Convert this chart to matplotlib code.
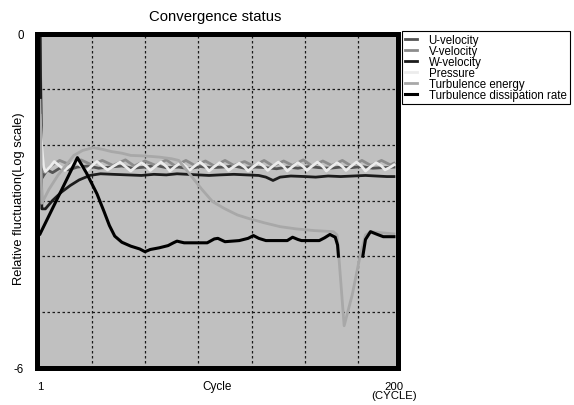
import numpy as np
import matplotlib
matplotlib.use("Agg")
import matplotlib.pyplot as plt

plt.rcParams['font.family'] = ['Liberation Sans', 'DejaVu Sans']

# ---------------- data (cycle, log10 relative fluctuation) ----------------
u_cycle = [1, 2, 3, 5, 8, 12, 17, 22, 28, 34, 40, 47, 53, 60, 66, 72, 79, 85, 91,
           97, 104, 110, 116, 122, 128, 134, 140, 146, 152, 158, 164, 170, 176,
           182, 188, 194, 200]
u_vel = [0.0, -2.6, -2.55, -2.45, -2.5, -2.42, -2.45, -2.4, -2.38, -2.42, -2.4,
         -2.38, -2.42, -2.4, -2.37, -2.41, -2.4, -2.43, -2.39, -2.41, -2.4, -2.38,
         -2.42, -2.4, -2.41, -2.43, -2.4, -2.42, -2.39, -2.41, -2.42, -2.4, -2.41,
         -2.39, -2.42, -2.41, -2.4]

v_cycle = [1, 2, 4, 7, 12, 18, 24, 30, 36, 42, 49, 54, 60, 66, 72, 77, 83, 88,
           94, 99, 105, 110, 116, 121, 127, 132, 138, 143, 149, 154, 160, 165,
           171, 176, 182, 187, 193, 198, 200]
v_vel = [0.0, -2.45, -2.5, -2.38, -2.28, -2.36, -2.27, -2.36, -2.28, -2.37,
         -2.27, -2.38, -2.29, -2.37, -2.27, -2.38, -2.28, -2.37, -2.29, -2.38,
         -2.28, -2.37, -2.3, -2.38, -2.28, -2.38, -2.29, -2.37, -2.27, -2.38,
         -2.29, -2.37, -2.28, -2.38, -2.28, -2.37, -2.28, -2.36, -2.33]

w_cycle = [1, 2, 4, 8, 13, 18, 23, 29, 35, 42, 50, 58, 65, 72, 78, 84, 90, 96,
           102, 110, 117, 124, 128, 132, 136, 142, 150, 156, 163, 170, 177,
           184, 190, 196, 200]
w_vel = [0.0, -3.15, -3.15, -3.0, -2.85, -2.73, -2.63, -2.55, -2.52, -2.53,
         -2.54, -2.55, -2.53, -2.54, -2.52, -2.53, -2.54, -2.55, -2.54, -2.53,
         -2.54, -2.55, -2.58, -2.64, -2.58, -2.56, -2.57, -2.58, -2.56, -2.57,
         -2.56, -2.55, -2.56, -2.57, -2.57]

p_cycle = [1, 2, 3, 4, 7, 9, 12, 15, 18, 21, 24, 27, 30, 33, 36, 39, 43, 46,
           49, 52, 55, 58, 61, 63, 66, 69, 72, 74, 77, 80, 83, 85, 88, 91, 94,
           96, 99, 102, 105, 107, 110, 113, 116, 118, 121, 124, 127, 129, 132,
           135, 138, 140, 143, 146, 149, 151, 154, 157, 160, 162, 165, 168,
           171, 173, 176, 179, 182, 184, 187, 190, 193, 195, 198, 200]
pressure = [-1.47, -2.05, -2.4, -2.48, -2.38, -2.3, -2.38, -2.46, -2.37, -2.29,
            -2.38, -2.47, -2.38, -2.3, -2.38, -2.45, -2.37, -2.31, -2.39, -2.47,
            -2.39, -2.32, -2.39, -2.46, -2.38, -2.31, -2.39, -2.47, -2.39,
            -2.32, -2.39, -2.46, -2.38, -2.31, -2.39, -2.47, -2.39, -2.32,
            -2.39, -2.46, -2.39, -2.33, -2.4, -2.47, -2.39, -2.32, -2.39, -2.46,
            -2.38, -2.31, -2.39, -2.47, -2.39, -2.32, -2.39, -2.46, -2.38,
            -2.31, -2.39, -2.47, -2.39, -2.32, -2.39, -2.46, -2.38, -2.31,
            -2.39, -2.47, -2.39, -2.32, -2.38, -2.45, -2.4, -2.36]

te_cycle = [1, 2, 6, 11, 16, 20, 25, 31, 36, 41, 47, 52, 60, 68, 75, 79, 84, 87,
            92, 98, 105, 112, 118, 127, 136, 145, 155, 166, 168, 169, 172,
            176.5, 181, 184, 187, 193, 200]
turb_energy = [-1.2, -3.05, -2.8, -2.55, -2.35, -2.19, -2.1, -2.05, -2.08, -2.12,
               -2.15, -2.19, -2.2, -2.22, -2.25, -2.28, -2.48, -2.6, -2.8, -3.02,
               -3.15, -3.26, -3.32, -3.4, -3.47, -3.51, -3.54, -3.56, -3.62,
               -4.0, -5.25, -4.7, -3.99, -3.62, -3.56, -3.58, -3.6]

td_cycle = [1, 22, 27, 33, 37, 40, 43, 47, 52, 57, 60, 63, 68, 73, 76, 78, 82,
            95, 99, 101, 105, 113, 118, 121, 124, 128, 140, 143, 146, 148, 158,
            161, 164, 167, 168.3, 168.8, 175, 182.5, 184, 186.8, 190.7, 194,
            200]
turb_dissipation = [-3.6, -2.23, -2.5, -2.88, -3.2, -3.45, -3.64, -3.75, -3.82,
                    -3.87, -3.92, -3.88, -3.85, -3.81, -3.76, -3.73, -3.76,
                    -3.76, -3.69, -3.68, -3.74, -3.72, -3.68, -3.63, -3.68,
                    -3.72, -3.72, -3.66, -3.7, -3.72, -3.72, -3.67, -3.61,
                    -3.66, -3.8, -4.0, np.nan, -4.0, -3.7, -3.56, -3.61, -3.65,
                    -3.65]

series_labels = ['U-velocity', 'V-velocity', 'W-velocity', 'Pressure',
                 'Turbulence energy', 'Turbulence dissipation rate']
x_tick_labels = ['1', '200\n(CYCLE)']
y_tick_labels = ['0', '-6']

# ---------------- figure ----------------
fig = plt.figure(figsize=(5.74, 4.06), dpi=100)
W, H = 574, 406
ax_l, ax_r, ax_t, ax_b = 36.5, 397.5, 34.5, 368.5
ax = fig.add_axes([ax_l / W, 1 - ax_b / H, (ax_r - ax_l) / W, (ax_b - ax_t) / H])
ax.set_facecolor('#c0c0c0')

styles = [
    (u_cycle, u_vel, '#555555', 2.0),
    (v_cycle, v_vel, '#8c8c8c', 2.0),
    (w_cycle, w_vel, '#1c1c1c', 2.0),
    (p_cycle, pressure, '#ececec', 2.0),
    (te_cycle, turb_energy, '#a8a8a8', 2.0),
    (td_cycle, turb_dissipation, '#000000', 2.2),
]
order = [4, 1, 0, 2, 3, 5]
lines = {}
for i in order:
    xc, yv, col, lw = styles[i]
    ln, = ax.plot(xc, yv, color=col, lw=lw, label=series_labels[i],
                  solid_joinstyle='round', zorder=2 + i * 0.01)
    lines[i] = ln

ax.set_xlim(-1, 202)
ax.set_ylim(-6, 0)

# grid via minor ticks
ax.set_xticks([30, 60, 90, 120, 150, 180], minor=True)
ax.set_yticks([-1, -2, -3, -4, -5], minor=True)
ax.grid(which='minor', color='#1a1a1a', linestyle=(0, (2, 2)), linewidth=0.9)
ax.grid(which='major', visible=False)

ax.set_xticks([1, 200], labels=x_tick_labels)
ax.set_yticks([0, -6], labels=y_tick_labels)
ax.tick_params(which='both', length=0)
ax.tick_params(axis='x', pad=9.5, labelsize=8.2)
ax.tick_params(axis='y', pad=9, labelsize=8.3)
for t in ax.get_xticklabels():
    t.set_linespacing(0.95)

for s in ax.spines.values():
    s.set_linewidth(3.6)
    s.set_color('black')
    s.set_zorder(5)

ax.set_xlabel('Cycle', fontsize=8.5)
ax.xaxis.set_label_coords(0.5, -(387 - ax_b) / (ax_b - ax_t))
ax.xaxis.label.set_va('center')

fig.text(215.5 / W, 1 - 17 / H, 'Convergence status', ha='center',
         va='center', fontsize=10.7)
fig.text(19.5 / W, 1 - 199 / H, 'Relative fluctuation(Log scale)', ha='center',
         va='center', rotation=90, fontsize=9.3)

handles = [lines[i] for i in range(6)]
leg = fig.legend(handles, series_labels, loc='upper left',
                 bbox_to_anchor=(402 / W, 1 - 32 / H), bbox_transform=fig.transFigure,
                 borderaxespad=0, fontsize=8.3, frameon=True, fancybox=False,
                 edgecolor='black', facecolor='white', framealpha=1,
                 handlelength=1.0, handletextpad=1.0, labelspacing=-0.1,
                 borderpad=0.3)
leg.get_frame().set_linewidth(0.8)

fig.savefig('out.png', dpi=100)
